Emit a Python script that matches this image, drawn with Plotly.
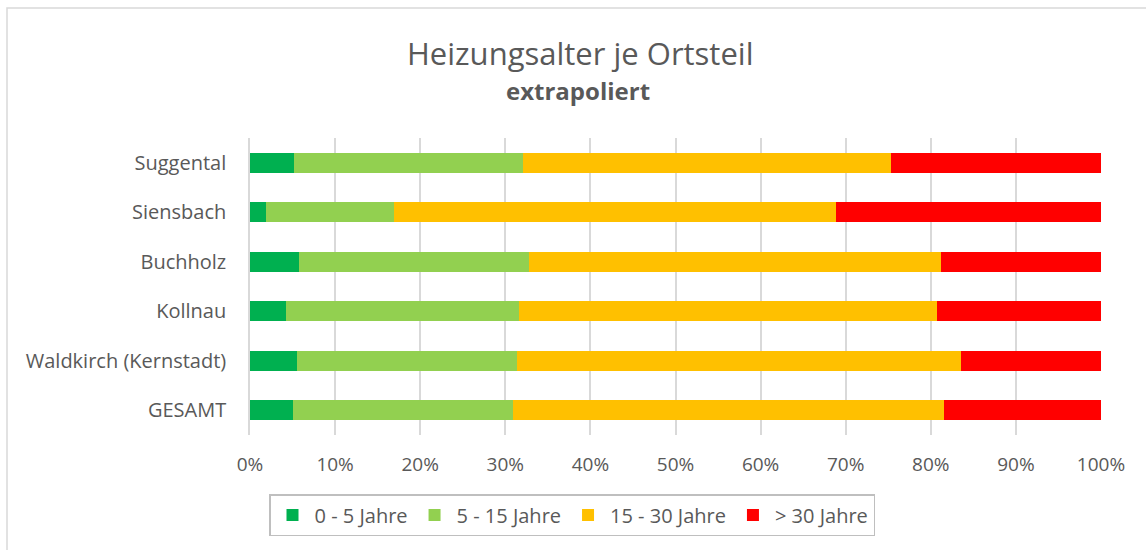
import plotly.graph_objects as go

# Ortsteile, von unten nach oben wie in der Vorlage
ortsteile = ["GESAMT", "Waldkirch (Kernstadt)", "Kollnau", "Buchholz", "Siensbach", "Suggental"]

# Anteile in Prozent
jahre_0_5 = [5.1, 5.5, 4.2, 5.8, 1.9, 5.2]
jahre_5_15 = [25.8, 25.9, 27.4, 27.0, 15.0, 26.9]
jahre_15_30 = [50.6, 52.1, 49.1, 48.4, 52.0, 43.2]
jahre_30_plus = [18.5, 16.5, 19.3, 18.8, 31.1, 24.7]

series = [
    ("0 - 5 Jahre", jahre_0_5, "#00B050"),
    ("5 - 15 Jahre", jahre_5_15, "#92D050"),
    ("15 - 30 Jahre", jahre_15_30, "#FFC000"),
    ("> 30 Jahre", jahre_30_plus, "#FF0000"),
]

tick_vals = [0, 10, 20, 30, 40, 50, 60, 70, 80, 90, 100]
tick_text = [f"{v}%" for v in tick_vals]

FONT = "Open Sans"
GREY = "#595959"

# plot area in pixels: x 250..1101, y 138..435
PH = 297

fig = go.Figure()
for name, vals, color in series:
    fig.add_trace(go.Bar(y=ortsteile, x=vals, name=name, orientation="h",
                         marker=dict(color=color, line=dict(width=0))))

fig.update_layout(
    barmode="stack",
    bargap=0.6,
    width=1146, height=550,
    margin=dict(l=250, r=45, t=138, b=115),
    paper_bgcolor="white", plot_bgcolor="white",
    font=dict(family=FONT, color=GREY, size=18),
    showlegend=True,
    legend=dict(orientation="h", x=(269 - 250) / 851, y=(435 - 494) / PH,
                xanchor="left", yanchor="top",
                bordercolor="#BFBFBF", borderwidth=1.5, traceorder="normal",
                font=dict(size=20, color=GREY), itemwidth=34),
)

fig.update_xaxes(range=[0, 100], tickvals=tick_vals, ticktext=tick_text,
                 showgrid=True, gridcolor="#D9D9D9", gridwidth=1.5,
                 zeroline=False, showline=False, ticks="",
                 ticklabelstandoff=16, tickfont=dict(size=19, color=GREY))
fig.update_yaxes(showgrid=False, zeroline=False, showline=True,
                 linecolor="#D9D9D9", linewidth=1.5, ticks="",
                 ticklabelstandoff=18, tickfont=dict(size=20, color=GREY))

# Titel und Untertitel
fig.add_annotation(text="Heizungsalter je Ortsteil", xref="paper", yref="paper",
                   x=(580 - 250) / 851, y=(435 - 53) / PH, showarrow=False,
                   xanchor="center", yanchor="middle",
                   font=dict(family=FONT, size=31, color=GREY))
fig.add_annotation(text="<b>extrapoliert</b>", xref="paper", yref="paper",
                   x=(578 - 250) / 851, y=(435 - 91) / PH, showarrow=False,
                   xanchor="center", yanchor="middle",
                   font=dict(family=FONT, size=24, color=GREY))

# Rahmen um das Diagramm
fig.add_shape(type="rect", xref="paper", yref="paper",
              x0=(7 - 250) / 851, x1=(1152 - 250) / 851,
              y0=(435 - 556) / PH, y1=(435 - 8) / PH,
              line=dict(color="#D9D9D9", width=1.5), layer="below")

fig.write_html("out.html", config={"displayModeBar": False},
               post_script="document.body.style.margin='0';")
